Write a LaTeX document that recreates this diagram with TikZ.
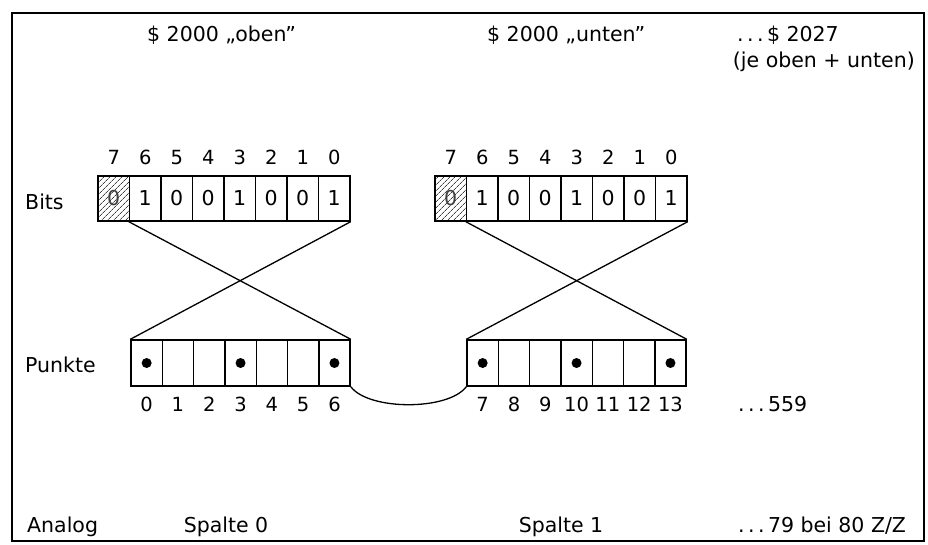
\documentclass[tikz,border=0pt]{standalone}
\usepackage{fontspec}
\setmainfont{DejaVu Sans}
\usetikzlibrary{patterns.meta}
\begin{document}
\begin{tikzpicture}[x=1pt,y=-1pt,
  txt/.style={font=\fontsize{20.5}{24}\selectfont, inner sep=0pt},
  num/.style={font=\fontsize{19.5}{22}\selectfont, inner sep=0pt},
  bitcell/.style={draw, line width=1.4pt, minimum width=31.5pt, minimum height=45pt, inner sep=0pt, font=\fontsize{20.5}{24}\selectfont},
  dotcell/.style={draw, line width=1.4pt, minimum width=31.3pt, minimum height=46pt, inner sep=0pt},
  hatched/.style={pattern={Lines[angle=45,distance=4pt,line width=0.8pt]}, pattern color=black!75},
  conn/.style={line width=1.3pt},
  frame/.style={line width=1.8pt}
  ]
\useasboundingbox (0,0) rectangle (928,544);
\draw[frame] (12,13) -- (924,13) -- (924,541) -- (12,541) -- cycle;

% top texts
\node[txt,anchor=base west] (t1) at (147,41) {\$ 2000 „oben''};
\node[txt,anchor=base west] (t2) at (487,41) {\$ 2000 „unten''};
\node[txt,anchor=base west] (t3) at (737,41) {.\,.\,.\,\$ 2027};
\node[txt,anchor=base east] (t4) at (915,67) {(je oben + unten)};

% row labels
\node[txt,anchor=base west] (bits) at (25,209) {Bits};
\node[txt,anchor=base west] (punkte) at (25,372) {Punkte};
\node[txt,anchor=base west] (analog) at (27,532) {Analog};
\node[txt,anchor=base] (sp0) at (226,532) {Spalte 0};
\node[txt,anchor=base] (sp1) at (561,532) {Spalte 1};
\node[txt,anchor=base west] (sp79) at (738,532) {.\,.\,.\,79 bei 80 Z/Z};
\node[txt,anchor=base west] (p559) at (738,411) {.\,.\,.\,559};

% bit rows
\node[bitcell,hatched] (L7) at (113.75,198.5) {\color{black!75}0};
\foreach \v [count=\i from 1] in {1,0,0,1,0,0,1} {
  \pgfmathtruncatemacro\b{7-\i}
  \node[bitcell] (L\b) at (113.75+31.5*\i,198.5) {\v};
}
\node[bitcell,hatched] (R7) at (450.75,198.5) {\color{black!75}0};
\foreach \v [count=\i from 1] in {1,0,0,1,0,0,1} {
  \pgfmathtruncatemacro\b{7-\i}
  \node[bitcell] (R\b) at (450.75+31.5*\i,198.5) {\v};
}
\foreach \b in {0,...,7} {
  \path (L\b.north) ++(0,-11) node[num,anchor=base] {\b};
  \path (R\b.north) ++(0,-11) node[num,anchor=base] {\b};
}

% dot rows
\foreach \k in {0,...,6} {
  \node[dotcell] (P\k) at (146.65+31.3*\k,363) {};
}
\foreach \k in {7,...,13} {
  \node[dotcell] (P\k) at (482.65+31.3*\k-31.3*7,363) {};
}
\foreach \k in {0,3,6,7,10,13} \fill (P\k) circle (5);
\foreach \k in {0,...,13} \path (P\k.south) ++(0,25) node[num,anchor=base] {\k};

% connectors
\draw[conn] (L6.south west) -- (P6.north east);
\draw[conn] (L0.south east) -- (P0.north west);
\draw[conn] (R6.south west) -- (P13.north east);
\draw[conn] (R0.south east) -- (P7.north west);
\draw[conn] (P6.south east) .. controls +(18,24) and +(-18,24) .. (P7.south west);
\end{tikzpicture}
\end{document}
